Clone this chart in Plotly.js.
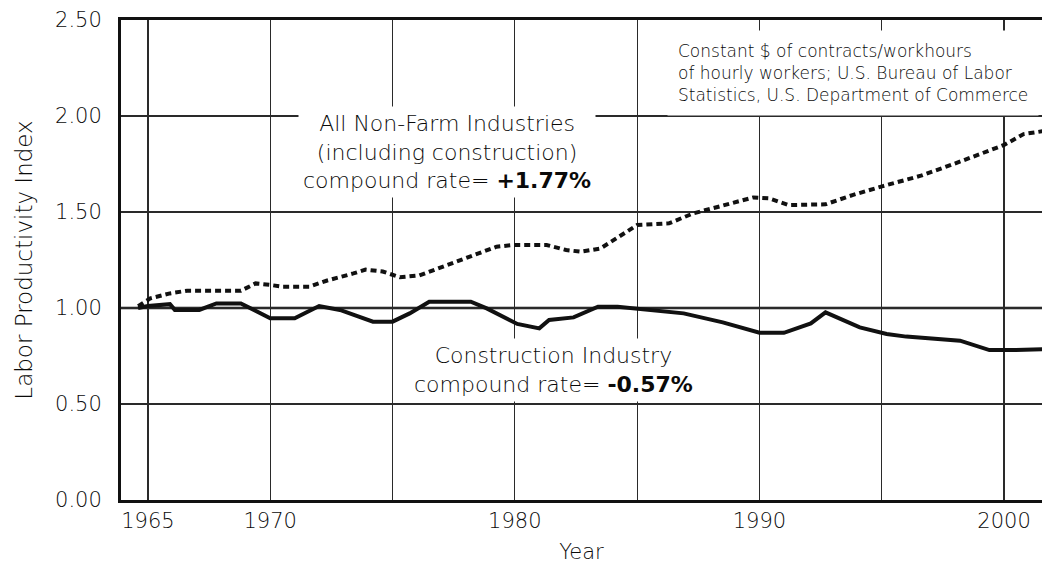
<!DOCTYPE html>
<html><head><meta charset="utf-8">
<script src="https://cdn.plot.ly/plotly-3.0.1.min.js"></script>
<style>html,body{margin:0;padding:0;background:#fff;overflow:hidden}</style>
</head><body><div id="chart" style="width:1042px;height:564px"></div>
<script>
// All Non-Farm Industries (including construction), dotted line
const nonfarmYears = [1964.6, 1965.1, 1965.9, 1966.6, 1968.8, 1969.4, 1970.0, 1970.5, 1971.6, 1972.3, 1973.4, 1973.9, 1974.6, 1975.3, 1976.1, 1977.75, 1979.25, 1979.9, 1981.3, 1982.1, 1982.7, 1983.5, 1985.0, 1986.3, 1987.3, 1988.4, 1989.75, 1990.4, 1991.2, 1992.7, 1993.8, 1995.05, 1996.6, 1997.9, 2000.0, 2000.8, 2001.7];
const nonfarmIndex = [1.01, 1.05, 1.076, 1.09, 1.09, 1.128, 1.12, 1.111, 1.111, 1.142, 1.18, 1.2, 1.19, 1.16, 1.17, 1.25, 1.319, 1.328, 1.328, 1.302, 1.293, 1.31, 1.432, 1.441, 1.493, 1.53, 1.576, 1.571, 1.536, 1.54, 1.588, 1.635, 1.689, 1.748, 1.849, 1.906, 1.923];

// Construction Industry, solid line
const constructionYears = [1964.6, 1965.0, 1965.9, 1966.1, 1967.1, 1967.8, 1968.8, 1970.0, 1971.0, 1972.0, 1972.85, 1974.2, 1975.0, 1975.7, 1976.5, 1978.2, 1978.85, 1980.1, 1981.0, 1981.4, 1982.4, 1983.4, 1984.2, 1985.0, 1986.9, 1988.5, 1990.0, 1991.0, 1992.1, 1992.7, 1994.1, 1995.2, 1996.0, 1998.2, 1999.4, 2000.4, 2001.7];
const constructionIndex = [1.0, 1.01, 1.02, 0.99, 0.99, 1.024, 1.024, 0.946, 0.946, 1.01, 0.99, 0.929, 0.929, 0.972, 1.033, 1.033, 0.998, 0.917, 0.894, 0.9375, 0.951, 1.007, 1.007, 0.998, 0.972, 0.925, 0.871, 0.871, 0.92, 0.977, 0.899, 0.865, 0.851, 0.83, 0.781, 0.781, 0.786];

const xTickVals = [1965, 1970, 1975, 1980, 1985, 1990, 1995, 2000];
const xTickText = ["1965", "1970", "", "1980", "", "1990", "", "2000"];
const yTickVals = [0, 0.5, 1.0, 1.5, 2.0, 2.5];
const baselineLevel = 1.0;

const nonfarmLabel = "All Non-Farm Industries<br>(including construction)<br>compound rate= <b>+1.77%</b>";
const constructionLabel = "Construction Industry<br>compound rate= <b>-0.57%</b>";
const sourceNote = "Constant $ of contracts/workhours<br>of hourly workers; U.S. Bureau of Labor<br>Statistics, U.S. Department of Commerce";

const FONT = '"DejaVu Sans", "Liberation Sans", sans-serif';
const TXT = '#0a0a0a';
const W = 300;

const traces = [
  {x: nonfarmYears, y: nonfarmIndex, type: 'scatter', mode: 'lines', name: 'All Non-Farm Industries',
   line: {color: '#111', width: 4, dash: '6px,4px'}, hoverinfo: 'x+y'},
  {x: constructionYears, y: constructionIndex, type: 'scatter', mode: 'lines', name: 'Construction Industry',
   line: {color: '#111', width: 4}, hoverinfo: 'x+y'}
];

const layout = {
  width: 1042, height: 564,
  margin: {l: 121, r: 0, t: 20, b: 64},
  paper_bgcolor: '#fff', plot_bgcolor: '#fff',
  showlegend: false,
  font: {family: FONT, color: TXT, weight: W},
  xaxis: {
    range: [1963.9, 2001.55],
    tickmode: 'array', tickvals: xTickVals, ticktext: xTickText,
    showgrid: true, gridcolor: '#2a2a2a', gridwidth: 1.3,
    showline: true, linecolor: '#111', linewidth: 3, mirror: true,
    ticks: '', zeroline: false,
    tickfont: {size: 21, family: FONT, color: TXT, weight: W},
    title: {text: 'Year', font: {size: 21, family: FONT, color: TXT, weight: W}, standoff: 14}
  },
  yaxis: {
    range: [0, 2.5],
    tickmode: 'array', tickvals: yTickVals, tickformat: '.2f',
    showgrid: true, gridcolor: '#2a2a2a', gridwidth: 1.3,
    showline: true, linecolor: '#111', linewidth: 3,
    ticks: '', zeroline: false, ticklabelstandoff: 12,
    tickfont: {size: 21, family: FONT, color: TXT, weight: W},
    title: {text: 'Labor Productivity Index', font: {size: 23, family: FONT, color: TXT, weight: W}, standoff: 16}
  },
  shapes: [
    {type: 'line', xref: 'paper', x0: 0, x1: 1, yref: 'y', y0: baselineLevel, y1: baselineLevel,
     line: {color: '#111', width: 2.5}, layer: 'below'}
  ],
  annotations: [
    {xref: 'x', yref: 'y', x: 1977.22, y: 1.81, text: nonfarmLabel, showarrow: false,
     font: {size: 22, family: FONT, color: TXT, weight: W}, align: 'center', bgcolor: '#fff', borderpad: 4},
    {xref: 'x', yref: 'y', x: 1981.6, y: 0.677, text: constructionLabel, showarrow: false,
     font: {size: 22, family: FONT, color: TXT, weight: W}, align: 'center', bgcolor: '#fff', borderpad: 4},
    {xref: 'x', yref: 'y', x: 1986.2, y: 2.224, xanchor: 'left', text: sourceNote, showarrow: false,
     font: {size: 17, family: FONT, color: TXT, weight: W}, align: 'left', bgcolor: '#fff', borderpad: 10}
  ]
};

Plotly.newPlot('chart', traces, layout, {displayModeBar: false, staticPlot: true});
</script></body></html>
